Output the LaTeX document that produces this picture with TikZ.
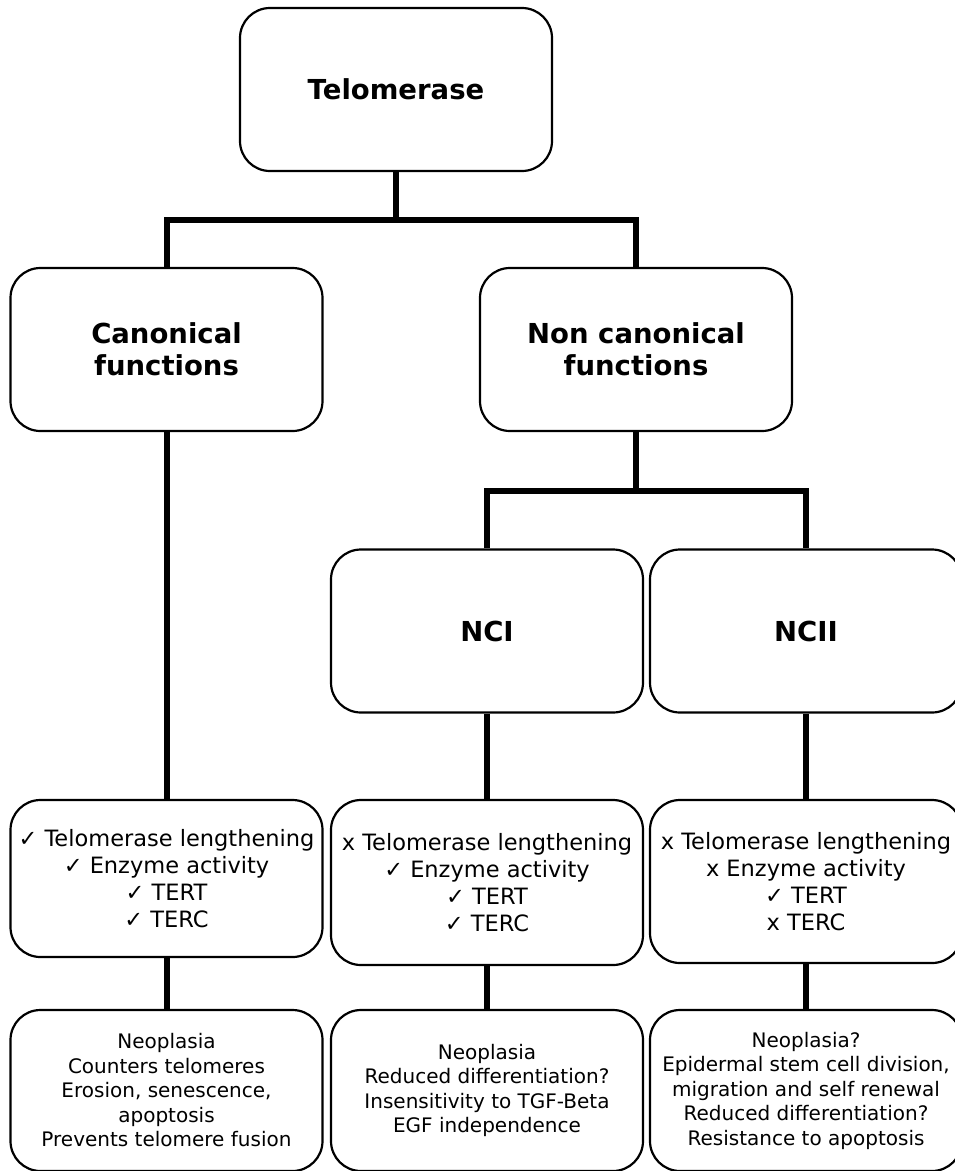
\documentclass[tikz,border=0pt]{standalone}
\usepackage{fontspec}
\setmainfont{DejaVu Sans}
\usepackage{tikz}

\tikzset{
  box/.style={draw, line width=2.2pt, rounded corners=30pt, minimum width=312pt, align=center, inner sep=0pt},
  title/.style={box, minimum height=163pt, font=\fontsize{27.5}{32}\selectfont\bfseries},
  props/.style={box, font=\fontsize{22.5}{27}\selectfont},
  effects/.style={box, minimum height=161pt, font=\fontsize{20}{24.5}\selectfont},
  conn/.style={line width=6pt},
}

\begin{document}
\begin{tikzpicture}[x=1pt, y=-1pt]
        \useasboundingbox (0,0) rectangle (955,1171);

        %見出しのボックス
        \node[title] (tel) at (396,89.5) {Telomerase};
        \node[title] (canon) at (166.5,349.5) {Canonical\\functions};
        \node[title] (noncanon) at (636,349.5) {Non canonical\\functions};
        \node[title] (nci) at (487,631) {NCI};
        \node[title] (ncii) at (806,631) {NCII};

        %性質のボックス
        \node[props, minimum height=157pt] (canprop) at (166.5,878.5)
            {✓ Telomerase lengthening\\✓ Enzyme activity\\✓ TERT\\✓ TERC};
        \node[props, minimum height=165pt] (nciprop) at (487,882.5)
            {x Telomerase lengthening\\✓ Enzyme activity\\✓ TERT\\✓ TERC};
        \node[props, minimum height=163pt] (nciiprop) at (806,881.5)
            {x Telomerase lengthening\\x Enzyme activity\\✓ TERT\\x TERC};

        %効果のボックス
        \node[effects] (caneff) at (166.5,1090.5)
            {Neoplasia\\Counters telomeres\\Erosion, senescence,\\apoptosis\\Prevents telomere fusion};
        \node[effects] (ncieff) at (487,1090.5)
            {Neoplasia\\Reduced differentiation?\\Insensitivity to TGF-Beta\\EGF independence};
        \node[effects] (ncieff2) at (806,1090.5)
            {Neoplasia?\\Epidermal stem cell division,\\migration and self renewal\\Reduced differentiation?\\Resistance to apoptosis};

        %つなぐ線
        \coordinate (bus1) at (396,220);
        \coordinate (bus2) at (636,491);
        \draw[conn] (tel.south) -- (bus1);
        \draw[conn] (canon.north) |- (bus1) -| (noncanon.north);
        \draw[conn] (noncanon.south) -- (bus2);
        \draw[conn] (nci.north) |- (bus2) -| (ncii.north);
        \draw[conn] (canon.south) -- (canprop.north);
        \draw[conn] (nci.south) -- (nciprop.north);
        \draw[conn] (ncii.south) -- (nciiprop.north);
        \draw[conn] (canprop.south) -- (caneff.north);
        \draw[conn] (nciprop.south) -- (ncieff.north);
        \draw[conn] (nciiprop.south) -- (ncieff2.north);
    \end{tikzpicture}
\end{document}
